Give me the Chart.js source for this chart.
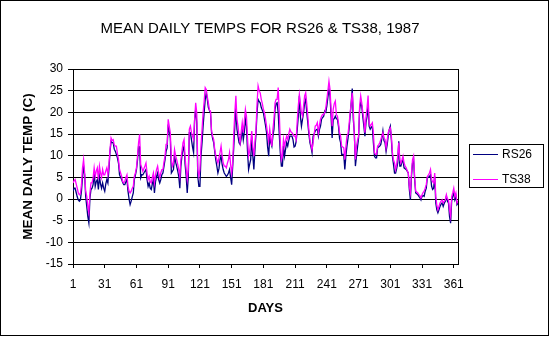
<!DOCTYPE html>
<html>
<head>
<meta charset="utf-8">
<title>Mean daily temps 1987</title>
<style>
  html, body { margin: 0; padding: 0; background: #fff; overflow: hidden; }
  canvas { display: block; }
</style>
<script src="https://cdn.jsdelivr.net/npm/chart.js@4.4.0/dist/chart.umd.min.js"></script>
</head>
<body>
<canvas id="chart" width="551" height="337"></canvas>
<script>
// Day-of-year categories 1..365 and the labelled day ticks
const days = Array.from({ length: 365 }, (_, i) => i + 1);
const dayTicks = [1, 31, 61, 91, 121, 151, 181, 211, 241, 271, 301, 331, 361];

// Mean daily temperature (C), station RS26
const rs26 = [
  1.8, 2.5, 2.5, 1.5, 0.5, -0.2, -0.5, -0.2, 1.8, 5.0,        // 1-10
  7.6, 5.6, 0.6, -1.7, -4.0, -5.5, 0.2, 2.2, 2.5, 3.3,        // 11-20
  6.0, 2.9, 4.0, 4.5, 2.2, 5.2, 3.5, 2.5, 3.7, 2.5,           // 21-30
  1.8, 3.5, 4.5, 3.7, 7.0, 11.0, 13.3, 13.0, 13.0, 11.5,      // 31-40
  11.0, 10.3, 9.5, 8.3, 5.6, 5.0, 4.5, 3.8, 3.3, 3.3,         // 41-50
  4.0, 4.5, 1.8, 0.0, -1.3, -0.5, 0.5, 1.4, 4.5, 5.5,         // 51-60
  6.8, 9.0, 12.2, 12.0, 4.9, 5.6, 5.6, 6.0, 6.4, 6.8,         // 61-70
  4.5, 2.9, 3.7, 2.5, 2.2, 3.5, 4.5, 1.4, 4.0, 5.2,           // 71-80
  6.0, 4.5, 3.7, 4.5, 5.6, 6.0, 7.5, 9.1, 11.0, 11.8,         // 81-90
  17.2, 15.5, 14.1, 6.0, 6.4, 6.8, 9.9, 8.5, 7.6, 6.5,        // 91-100
  5.2, 2.5, 7.6, 10.0, 11.4, 12.2, 8.0, 5.2, 1.4, 5.2,        // 101-110
  15.3, 15.3, 13.7, 12.0, 10.7, 18.4, 20.7, 17.6, 5.2, 2.9,   // 111-120
  2.9, 9.9, 13.0, 16.8, 20.0, 23.0, 24.5, 23.0, 21.1, 20.5,   // 121-130
  19.9, 15.3, 14.0, 13.0, 11.0, 9.0, 7.6, 6.0, 7.0, 9.1,      // 131-140
  9.9, 8.0, 6.8, 6.0, 5.6, 5.2, 5.5, 6.0, 6.8, 5.0,           // 141-150
  3.3, 7.6, 12.0, 16.8, 21.5, 16.1, 14.5, 13.0, 12.6, 14.0,   // 151-160
  16.1, 13.7, 15.5, 18.4, 16.8, 11.0, 6.8, 8.0, 9.1, 14.5,    // 161-170
  10.0, 6.8, 11.4, 15.0, 19.9, 23.0, 22.5, 22.2, 21.1, 20.5,  // 171-180
  19.9, 18.4, 17.0, 15.3, 12.0, 9.9, 14.5, 13.0, 12.2, 14.5,  // 181-190
  16.1, 20.7, 22.0, 22.2, 19.9, 15.0, 10.7, 7.6, 7.6, 12.2,   // 191-200
  9.9, 11.5, 13.0, 12.2, 13.5, 14.5, 14.5, 14.5, 13.7, 12.0,  // 201-210
  12.2, 13.3, 16.0, 19.1, 23.8, 19.0, 16.8, 18.4, 20.0, 22.2, // 211-220
  23.0, 20.0, 17.6, 15.0, 13.0, 12.0, 10.7, 14.5, 15.0, 15.7, // 221-230
  16.0, 16.1, 14.5, 16.0, 16.8, 18.4, 18.8, 19.1, 20.3, 20.0, // 231-240
  21.5, 23.5, 25.3, 23.8, 19.1, 14.1, 18.4, 18.5, 19.1, 18.5, // 241-250
  18.4, 16.8, 14.0, 13.0, 10.3, 10.3, 10.3, 6.8, 10.0, 12.2,  // 251-260
  14.0, 16.1, 19.1, 22.0, 25.5, 18.4, 15.3, 7.6, 9.9, 12.0,   // 261-270
  14.1, 20.7, 22.2, 21.5, 19.0, 16.8, 14.5, 17.6, 19.0, 21.5, // 271-280
  16.8, 16.1, 16.5, 16.8, 13.0, 9.9, 9.5, 9.5, 11.8, 12.0,    // 281-290
  12.2, 12.6, 14.0, 15.7, 13.5, 13.0, 11.0, 12.5, 14.5, 16.0, // 291-300
  16.8, 13.7, 9.9, 8.0, 6.0, 6.0, 7.0, 8.3, 13.3, 7.6,        // 301-310
  7.6, 8.5, 9.1, 7.2, 7.0, 6.8, 6.4, 6.0, 2.2, -0.2,          // 311-320
  5.2, 8.3, 9.1, 4.5, 1.4, 1.2, 1.0, 0.6, 0.3, -0.2,          // 321-330
  0.6, 0.8, 0.6, 1.8, 2.5, 4.9, 5.0, 5.2, 5.6, 3.0,           // 331-340
  2.2, 2.5, 5.2, -0.9, -2.5, -3.2, -2.5, -1.7, -1.2, -0.9,    // 341-350
  -1.7, -1.0, -0.5, 0.6, -0.5, -0.9, -4.0, -5.6, -0.5, 0.6,   // 351-360
  1.4, -0.2, 0.6, -1.3, -0.9                                  // 361-365
];

// Mean daily temperature (C), station TS38
const ts38 = [
  3.7, 4.2, 4.5, 3.5, 2.5, 1.4, 1.0, 1.2, 3.3, 7.2,           // 1-10
  9.1, 6.0, 1.8, 0.6, -1.7, -3.2, 1.4, 3.7, 3.7, 4.9,         // 11-20
  7.2, 5.2, 6.5, 7.2, 4.5, 7.6, 6.0, 4.9, 6.8, 5.6,           // 21-30
  5.6, 6.5, 7.2, 5.6, 8.0, 11.4, 14.1, 13.5, 13.7, 12.5,      // 31-40
  12.2, 12.2, 10.5, 9.1, 6.8, 6.0, 5.2, 4.0, 3.7, 4.1,        // 41-50
  5.0, 5.6, 2.9, 1.8, 1.4, 1.8, 2.5, 2.9, 5.2, 6.0,           // 51-60
  7.2, 10.0, 13.0, 14.9, 8.0, 7.2, 6.4, 7.0, 7.6, 8.3,        // 61-70
  6.0, 4.5, 5.2, 4.0, 3.7, 5.0, 6.0, 3.7, 5.5, 6.8,           // 71-80
  7.6, 6.0, 4.9, 6.0, 6.8, 6.8, 8.5, 9.9, 12.6, 12.6,         // 81-90
  18.4, 16.8, 15.3, 9.1, 7.6, 8.3, 11.4, 10.0, 9.1, 8.0,      // 91-100
  6.8, 5.2, 9.1, 11.0, 13.0, 13.7, 9.5, 6.8, 4.5, 6.8,        // 101-110
  16.1, 16.8, 15.3, 14.5, 13.7, 18.4, 22.2, 19.9, 6.8, 5.2,   // 111-120
  6.8, 12.2, 16.0, 19.9, 22.5, 25.7, 25.3, 23.5, 22.2, 20.5,  // 121-130
  20.3, 15.7, 14.5, 13.7, 11.4, 10.0, 9.1, 8.3, 9.5, 10.7,    // 131-140
  12.2, 10.0, 8.3, 7.6, 7.6, 7.2, 8.3, 9.1, 10.7, 8.0,        // 141-150
  6.0, 8.3, 15.0, 19.9, 23.8, 18.4, 16.8, 14.5, 13.0, 15.5,   // 151-160
  17.6, 15.3, 18.0, 20.7, 19.1, 14.0, 9.9, 11.0, 13.0, 15.7,  // 161-170
  12.0, 9.9, 13.0, 16.0, 22.0, 26.1, 25.0, 24.5, 23.0, 22.0,  // 171-180
  20.7, 19.9, 18.5, 16.8, 15.0, 13.3, 16.1, 14.0, 12.2, 16.0, // 181-190
  18.4, 22.2, 23.0, 23.0, 25.7, 20.0, 13.0, 9.1, 9.9, 13.7,   // 191-200
  12.2, 13.5, 14.5, 13.7, 15.0, 16.1, 15.5, 15.3, 14.9, 14.5, // 201-210
  14.5, 13.7, 18.0, 21.5, 24.1, 22.0, 19.9, 19.1, 21.5, 23.8, // 211-220
  24.5, 22.0, 19.1, 16.0, 13.7, 12.5, 11.4, 13.0, 15.0, 16.8, // 221-230
  17.0, 17.6, 15.3, 17.0, 18.4, 19.1, 19.5, 19.5, 19.9, 21.0, // 231-240
  23.0, 25.0, 27.2, 25.3, 20.7, 16.8, 20.7, 22.0, 22.6, 19.5, // 241-250
  19.1, 17.6, 15.3, 14.5, 12.2, 12.0, 11.8, 9.1, 12.0, 14.5,  // 251-260
  15.0, 17.2, 19.9, 22.0, 24.5, 20.7, 14.5, 9.1, 12.2, 13.5,  // 261-270
  14.5, 21.5, 23.8, 22.2, 20.0, 18.4, 15.3, 18.8, 21.0, 23.9, // 271-280
  17.6, 16.8, 17.2, 17.6, 15.3, 10.7, 10.3, 10.3, 12.2, 12.5, // 281-290
  13.0, 13.7, 14.5, 15.3, 14.0, 13.7, 11.8, 13.5, 15.3, 16.0, // 291-300
  16.4, 14.5, 10.7, 9.0, 8.3, 6.8, 8.0, 9.9, 13.0, 9.1,       // 301-310
  8.3, 9.0, 9.9, 8.3, 7.6, 7.2, 6.5, 6.0, 2.9, 1.4,           // 311-320
  6.0, 9.1, 9.9, 5.2, 1.8, 1.6, 1.4, 1.0, 0.8, 0.2,           // 321-330
  1.0, 1.5, 1.8, 2.5, 3.3, 5.2, 5.5, 6.0, 6.8, 4.5,           // 331-340
  4.0, 3.7, 6.0, 0.6, -1.5, -2.5, -1.7, -0.9, -0.5, -0.2,     // 341-350
  -0.9, -0.5, -0.2, 1.0, 0.0, -0.2, -2.5, -4.0, 0.5, 1.4,     // 351-360
  2.5, 0.6, 1.4, -0.9, -0.5                                   // 361-365
];

const FONT = '"Liberation Sans", Arial, Helvetica, sans-serif';
const toPoints = vals => days.map((d, i) => ({ x: d, y: vals[i] }));

// White page with a thin black frame round the whole chart
const pageFrame = {
  id: 'pageFrame',
  beforeDraw(chart) {
    const c = chart.ctx;
    c.save();
    c.fillStyle = '#fff';
    c.fillRect(0, 0, chart.width, chart.height);
    c.strokeStyle = '#000';
    c.lineWidth = 1;
    c.strokeRect(0.5, 0.5, 548, 335);
    c.restore();
  }
};

// Black border round the plotting area
const plotFrame = {
  id: 'plotFrame',
  beforeDatasetsDraw(chart) {
    const { left, top, right, bottom } = chart.chartArea;
    const c = chart.ctx;
    c.save();
    c.strokeStyle = '#000';
    c.lineWidth = 1;
    c.strokeRect(Math.round(left) + 0.5, Math.round(top) + 0.5,
                 Math.round(right) - Math.round(left), Math.round(bottom) - Math.round(top));
    c.restore();
  }
};

// Boxed legend to the right of the plot, one line sample per series
const boxedLegend = {
  id: 'boxedLegend',
  afterDraw(chart) {
    const c = chart.ctx;
    const x = 469, y = 144, w = 74, h = 43;
    c.save();
    c.strokeStyle = '#000';
    c.lineWidth = 1;
    c.strokeRect(x + 0.5, y + 0.5, w, h);
    c.font = '12px ' + FONT;
    c.textBaseline = 'middle';
    c.textAlign = 'left';
    c.fillStyle = '#000';
    const ordered = chart.data.datasets.slice().sort((a, b) => a.legendIndex - b.legendIndex);
    ordered.forEach((ds, i) => {
      const ly = y + 10 + i * 25;
      c.strokeStyle = ds.borderColor;
      c.beginPath();
      c.moveTo(x + 4, ly + 0.5);
      c.lineTo(x + 29, ly + 0.5);
      c.stroke();
      c.fillText(ds.label, x + 33, ly + 1);
    });
    c.restore();
  }
};

new Chart(document.getElementById('chart'), {
  type: 'line',
  data: {
    datasets: [
      { label: 'RS26', legendIndex: 0, data: toPoints(rs26), borderColor: '#000080',
        borderWidth: 1.3, pointRadius: 0, tension: 0, fill: false, order: 1 },
      { label: 'TS38', legendIndex: 1, data: toPoints(ts38), borderColor: '#ff00ff',
        borderWidth: 1.3, pointRadius: 0, tension: 0, fill: false, order: 0 }
    ]
  },
  options: {
    responsive: false,
    animation: false,
    devicePixelRatio: 1,
    events: [],
    layout: { padding: { left: 0, right: 31, top: 0, bottom: 0 } },
    plugins: {
      legend: { display: false },
      tooltip: { enabled: false },
      title: {
        display: true,
        text: 'MEAN DAILY TEMPS FOR RS26 & TS38, 1987',
        color: '#000',
        font: { family: FONT, size: 15, weight: 'normal', lineHeight: 1.2 },
        padding: { top: 20, bottom: 31 }
      }
    },
    scales: {
      x: {
        type: 'linear',
        min: 1,
        max: 365,
        afterBuildTicks: scale => { scale.ticks = dayTicks.map(v => ({ value: v })); },
        afterFit: scale => { scale.height = 73; },
        ticks: {
          color: '#000',
          font: { family: FONT, size: 12 },
          padding: 9,
          autoSkip: false,
          maxRotation: 0,
          callback: v => String(v)
        },
        grid: { drawOnChartArea: false, color: '#000', tickLength: 4 },
        border: { display: true, color: '#000', width: 1 },
        title: {
          display: true,
          text: 'DAYS',
          color: '#000',
          font: { family: FONT, size: 13, weight: 'bold', lineHeight: 1.2 },
          padding: { top: 0, bottom: 21 }
        }
      },
      y: {
        min: -15,
        max: 30,
        afterFit: scale => { scale.width = 73; },
        ticks: {
          stepSize: 5,
          color: '#000',
          font: { family: FONT, size: 12 },
          padding: 5
        },
        grid: { color: '#000', lineWidth: 1, tickLength: 5 },
        border: { display: true, color: '#000', width: 1 },
        title: {
          display: true,
          text: 'MEAN DAILY TEMP (C)',
          color: '#000',
          font: { family: FONT, size: 13.5, weight: 'bold', lineHeight: 1.2 },
          padding: { top: 20, bottom: 0 }
        }
      },
      // blank right-hand strip that holds the legend column
      side: {
        position: 'right',
        display: true,
        afterFit: scale => { scale.width = 62; },
        ticks: { display: false },
        grid: { display: false, drawOnChartArea: false, drawTicks: false },
        border: { display: false }
      }
    }
  },
  plugins: [pageFrame, plotFrame, boxedLegend]
});
</script>
</body>
</html>
